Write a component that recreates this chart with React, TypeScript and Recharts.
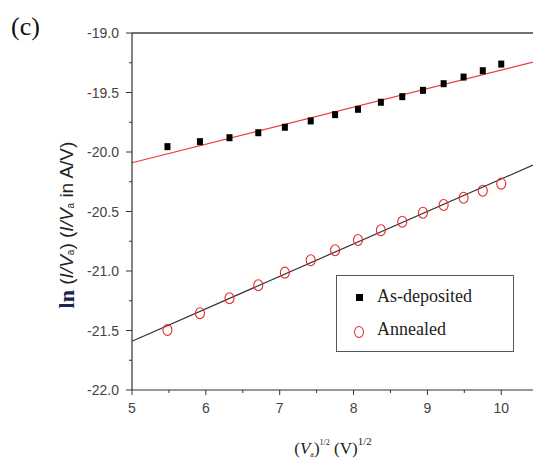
import { ReferenceLine, Scatter, ScatterChart, XAxis, YAxis } from "recharts";

// sqrt(Va) positions of the measurements
const rootVa = [5.48, 5.92, 6.32, 6.71, 7.07, 7.42, 7.75, 8.06, 8.37, 8.66, 8.94, 9.22, 9.49, 9.75, 10.0];
const asDeposited = [
  -19.955, -19.913, -19.88, -19.838, -19.792, -19.739, -19.686, -19.641, -19.582, -19.535, -19.482,
  -19.426, -19.37, -19.317, -19.261,
];
const annealed = [
  -21.496, -21.355, -21.229, -21.12, -21.014, -20.91, -20.825, -20.739, -20.658, -20.586, -20.51,
  -20.445, -20.384, -20.325, -20.266,
];
const asDepositedFit = [
  { x: 5, y: -20.09 },
  { x: 10.43, y: -19.245 },
];
const annealedFit = [
  { x: 5, y: -21.59 },
  { x: 10.43, y: -20.11 },
];
const xTicks = [5, 5.5, 6, 6.5, 7, 7.5, 8, 8.5, 9, 9.5, 10];
const yTicks = [-22, -21.75, -21.5, -21.25, -21, -20.75, -20.5, -20.25, -20, -19.75, -19.5, -19.25, -19];

const depData = rootVa.map((x, i) => ({ x, y: asDeposited[i] }));
const annData = rootVa.map((x, i) => ({ x, y: annealed[i] }));

const AXIS_X = 132;
const AXIS_Y = 390;
const SANS = "'Liberation Sans', Arial, sans-serif";
const SERIF = "'Liberation Serif', 'Times New Roman', serif";

const isMajor = (v: number) => Math.abs(v * 2 - Math.round(v * 2)) < 1e-6;

function YTick(props: any) {
  const { y, payload } = props;
  const v = payload.value as number;
  const major = isMajor(v);
  return (
    <g>
      <line x1={AXIS_X} x2={AXIS_X - (major ? 6 : 3)} y1={y} y2={y} stroke="#333" />
      {major && (
        <text x={119} y={y} dy={5} textAnchor="end" fontFamily={SANS} fontSize={14} fill="#444">
          {v.toFixed(1)}
        </text>
      )}
    </g>
  );
}

function XTick(props: any) {
  const { x, payload } = props;
  const v = payload.value as number;
  const major = Number.isInteger(v);
  return (
    <g>
      <line x1={x} x2={x} y1={AXIS_Y} y2={AXIS_Y + (major ? 5 : 3)} stroke="#333" />
      {major && (
        <text x={x} y={AXIS_Y + 23} textAnchor="middle" fontFamily={SANS} fontSize={14} fill="#444">
          {v}
        </text>
      )}
    </g>
  );
}

const SquareDot = (p: any) => <rect x={p.cx - 3} y={p.cy - 3.5} width={6} height={7} fill="#000" />;
const RingDot = (p: any) => (
  <ellipse cx={p.cx} cy={p.cy} rx={4.5} ry={5.5} fill="none" stroke="#e8262a" strokeWidth={1.1} />
);

const YLabel = () => (
  <text
    x={66}
    y={225}
    transform="rotate(-90 66 225)"
    textAnchor="middle"
    dominantBaseline="central"
    fontFamily={SANS}
    fontSize={19}
    fill="#222"
  >
    <tspan fontFamily={SERIF} fontWeight="bold" fontSize={22} fill="#1c2450">
      ln
    </tspan>
    <tspan> (</tspan>
    <tspan fontStyle="italic">I/V</tspan>
    <tspan fontSize={10} dy={4}>a</tspan>
    <tspan dy={-4}>) (</tspan>
    <tspan fontStyle="italic">I/V</tspan>
    <tspan fontSize={10} dy={4}>a</tspan>
    <tspan dy={-4}> in A/V)</tspan>
  </text>
);

const XLabel = () => (
  <text x={333} y={454} textAnchor="middle" fontFamily={SERIF} fontSize={17} fill="#222">
    <tspan>(</tspan>
    <tspan fontStyle="italic">V</tspan>
    <tspan fontSize={8} dy={3}>a</tspan>
    <tspan dy={-3}>)</tspan>
    <tspan fontSize={8} dy={-9}>1/2</tspan>
    <tspan dy={9}> (V)</tspan>
    <tspan fontSize={11} dy={-9}>1/2</tspan>
  </text>
);

export default function App() {
  return (
    <div
      style={{
        position: "fixed",
        left: 0,
        top: 0,
        width: 533,
        height: 459,
        overflow: "hidden",
        background: "#fff",
      }}
    >
      <div style={{ position: "absolute", left: 11, top: 12, fontFamily: SERIF, fontSize: 26, color: "#111" }}>
        (c)
      </div>
      <ScatterChart width={533} height={459} margin={{ top: 33, right: 0, bottom: 39, left: 72 }}>
        <XAxis
          type="number"
          dataKey="x"
          domain={[5, 10.43]}
          allowDataOverflow
          ticks={xTicks}
          interval={0}
          height={30}
          tickLine={false}
          tick={<XTick />}
          axisLine={{ stroke: "#333", strokeWidth: 1.2 }}
          label={{ content: () => <XLabel /> }}
        />
        <YAxis
          type="number"
          dataKey="y"
          domain={[-22, -19]}
          allowDataOverflow
          ticks={yTicks}
          interval={0}
          width={60}
          tickLine={false}
          tick={<YTick />}
          axisLine={{ stroke: "#333", strokeWidth: 1.2 }}
          label={{ content: () => <YLabel /> }}
        />
        <ReferenceLine y={-19} stroke="#444" strokeWidth={1.6} />
        <ReferenceLine segment={asDepositedFit} stroke="#f03a3a" strokeWidth={1.2} ifOverflow="visible" />
        <ReferenceLine segment={annealedFit} stroke="#333" strokeWidth={1.2} ifOverflow="visible" />
        <Scatter name="As-deposited" data={depData} shape={SquareDot} isAnimationActive={false} />
        <Scatter name="Annealed" data={annData} shape={RingDot} isAnimationActive={false} />
      </ScatterChart>
      <div
        style={{
          position: "absolute",
          left: 336,
          top: 275,
          width: 178,
          height: 77,
          border: "1px solid #555",
          boxSizing: "border-box",
          fontFamily: SERIF,
          fontSize: 18,
          color: "#222",
        }}
      >
        <div style={{ position: "absolute", left: 19, top: 18, width: 7, height: 7, background: "#000" }} />
        <div style={{ position: "absolute", left: 40, top: 10 }}>As-deposited</div>
        <div
          style={{
            position: "absolute",
            left: 17,
            top: 50,
            width: 8,
            height: 10,
            borderRadius: "50%",
            border: "1.2px solid #e8262a",
          }}
        />
        <div style={{ position: "absolute", left: 40, top: 43 }}>Annealed</div>
      </div>
    </div>
  );
}
